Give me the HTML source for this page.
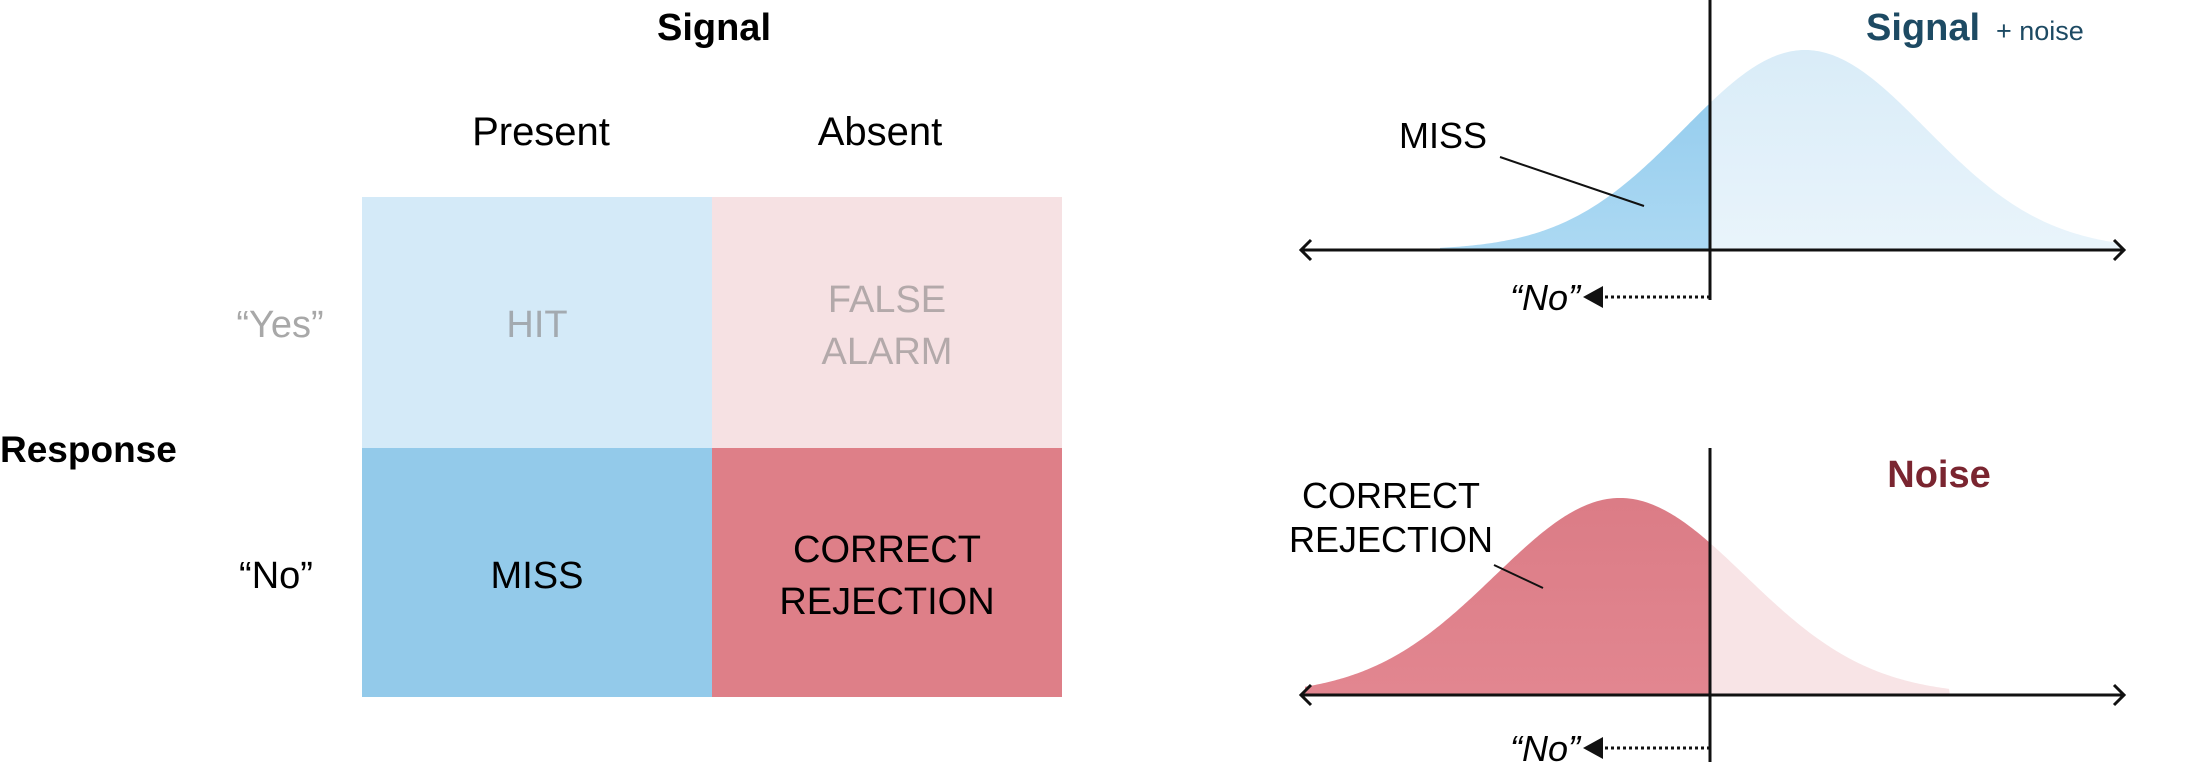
<!DOCTYPE html>
<html><head><meta charset="utf-8"><style>
html,body{margin:0;padding:0;background:#fff}
svg{display:block}
text{font-family:"Liberation Sans Narrow","Liberation Sans",sans-serif}
</style></head><body>
<svg id="s" width="2194" height="768" viewBox="0 0 2194 768" xmlns="http://www.w3.org/2000/svg">
<defs>
<clipPath id="L"><rect x="0" y="0" width="1710" height="768"/></clipPath>
<clipPath id="R"><rect x="1710" y="0" width="500" height="768"/></clipPath>
<linearGradient id="gb1" x1="0" y1="0" x2="0" y2="1"><stop offset="0" stop-color="#8fc9ec"/><stop offset="1" stop-color="#acd9f3"/></linearGradient>
<linearGradient id="gb2" x1="0" y1="0" x2="0" y2="1"><stop offset="0" stop-color="#d9ecf8"/><stop offset="1" stop-color="#e9f4fb"/></linearGradient>
<linearGradient id="gr1" x1="0" y1="0" x2="0" y2="1"><stop offset="0" stop-color="#db7c86"/><stop offset="1" stop-color="#e28690"/></linearGradient>
</defs>
<text x="714" y="40" font-size="38" font-weight="bold" text-anchor="middle">Signal</text>
<text x="541" y="145" font-size="40" text-anchor="middle">Present</text>
<text x="880" y="145" font-size="40" text-anchor="middle">Absent</text>
<rect x="362" y="197" width="350" height="251" fill="#d4eaf8"/>
<rect x="712" y="197" width="350" height="251" fill="#f6e1e3"/>
<rect x="362" y="448" width="350" height="249" fill="#93caea"/>
<rect x="712" y="448" width="350" height="249" fill="#de7f88"/>
<text x="537" y="337" font-size="38" fill="#a3aab0" text-anchor="middle">HIT</text>
<text x="887" y="312" font-size="38" fill="#b3a9aa" text-anchor="middle">FALSE</text>
<text x="887" y="364" font-size="38" fill="#b3a9aa" text-anchor="middle">ALARM</text>
<text x="537" y="588" font-size="38" text-anchor="middle">MISS</text>
<text x="887" y="562" font-size="38" text-anchor="middle">CORRECT</text>
<text x="887" y="614" font-size="38" text-anchor="middle">REJECTION</text>
<text x="280" y="337" font-size="38" fill="#a8a8a8" text-anchor="middle">“Yes”</text>
<text x="276" y="588" font-size="38" text-anchor="middle">“No”</text>
<text x="0" y="462" font-size="37" font-weight="bold">Response</text>
<g clip-path="url(#L)"><path id="c1a" fill="url(#gb1)"/></g>
<g clip-path="url(#R)"><path id="c1b" fill="url(#gb2)"/></g>
<g clip-path="url(#L)"><path id="c2a" fill="url(#gr1)"/></g>
<g clip-path="url(#R)"><path id="c2b" fill="#f8e4e6"/></g>
<g stroke="#111" stroke-width="3" fill="none">
<line x1="1301" y1="250" x2="2124" y2="250"/>
<polyline points="1311,240 1301,250 1311,260"/>
<polyline points="2114,240 2124,250 2114,260"/>
<line x1="1301" y1="695" x2="2124" y2="695"/>
<polyline points="1311,685 1301,695 1311,705"/>
<polyline points="2114,685 2124,695 2114,705"/>
<line x1="1710" y1="0" x2="1710" y2="300"/>
<line x1="1710" y1="448" x2="1710" y2="762"/>
<line x1="1605" y1="297" x2="1710" y2="297" stroke-dasharray="3,3"/>
<line x1="1605" y1="748" x2="1710" y2="748" stroke-dasharray="3,3"/>
<line x1="1500" y1="157" x2="1644" y2="206" stroke-width="2"/>
<line x1="1494" y1="565" x2="1543" y2="588" stroke-width="2"/>
</g>
<polygon points="1583,297 1603,286 1603,308" fill="#111"/>
<polygon points="1583,748 1603,737 1603,759" fill="#111"/>
<text x="1545" y="310" font-size="36" font-style="italic" text-anchor="middle">“No”</text>
<text x="1545" y="761" font-size="36" font-style="italic" text-anchor="middle">“No”</text>
<text x="1443" y="148" font-size="36" text-anchor="middle">MISS</text>
<text x="1391" y="508" font-size="36" text-anchor="middle">CORRECT</text>
<text x="1391" y="552" font-size="36" text-anchor="middle">REJECTION</text>
<text x="1866" y="40" font-size="38" font-weight="bold" fill="#1d4a63">Signal</text>
<text x="1996" y="40" font-size="27" fill="#1d4a63">+ noise</text>
<text x="1939" y="487" font-size="38" font-weight="bold" fill="#7a2530" text-anchor="middle">Noise</text>
</svg>
<script>
function g(mu,s,H,base,x0,x1){var d="M"+x0+","+base;for(var x=x0;x<=x1;x+=2){var k=(x-mu)/s;d+=" L"+x+","+(base-H*Math.exp(-k*k/2)).toFixed(2);}return d+" L"+x1+","+base+" Z";}
var a=g(1805,121,200,250,1440,2120),b=g(1620,125,197,695,1305,1950);
document.getElementById('c1a').setAttribute('d',a);document.getElementById('c1b').setAttribute('d',a);
document.getElementById('c2a').setAttribute('d',b);document.getElementById('c2b').setAttribute('d',b);
</script>
</body></html>
